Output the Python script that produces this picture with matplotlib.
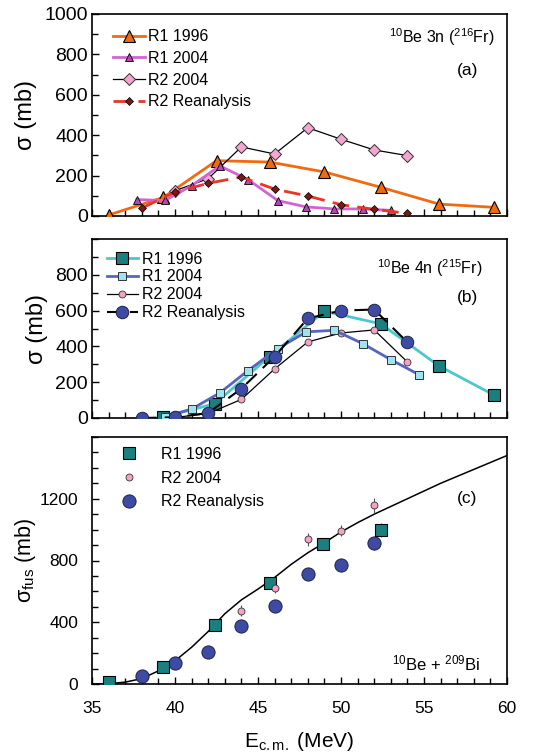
import numpy as np
import matplotlib
matplotlib.use('Agg')
import matplotlib.pyplot as plt
from matplotlib.ticker import MultipleLocator

plt.rcParams['font.family'] = ['Liberation Sans', 'DejaVu Sans']
plt.rcParams['mathtext.fontset'] = 'custom'
plt.rcParams['mathtext.rm'] = 'Liberation Sans'
plt.rcParams['mathtext.it'] = 'Liberation Sans:italic'
plt.rcParams['mathtext.bf'] = 'Liberation Sans:bold'

# panel (a): 10Be 3n (216Fr)
a_r1_1996_x = [36.0, 39.3, 42.5, 45.7, 49.0, 52.4, 55.9, 59.2]
a_r1_1996_y = [5, 92, 274, 267, 218, 142, 59, 43]
a_r1_2004_x = [37.7, 39.4, 41.0, 42.7, 44.4, 46.2, 47.9, 49.6, 51.3, 53.0]
a_r1_2004_y = [81, 77, 150, 248, 180, 76, 45, 35, 35, 28]
a_r2_2004_x = [40, 42, 44, 46, 48, 50, 52, 54]
a_r2_2004_y = [125, 185, 342, 307, 437, 380, 327, 299]
a_r2_2004_err = [30, 12, 30, 15, 20, 20, 25, 30]
a_r2_re_x = [38, 40, 42, 44, 46, 48, 50, 52, 54]
a_r2_re_y = [39, 118, 162, 193, 133, 99, 56, 33, 13]

# panel (b): 10Be 4n (215Fr)
b_r1_1996_x = [39.3, 42.4, 45.7, 49.0, 52.4, 55.9, 59.2]
b_r1_1996_y = [5, 80, 343, 597, 526, 291, 129]
b_r1_2004_x = [39.4, 41.0, 42.7, 44.4, 46.2, 47.9, 49.6, 51.3, 53.0, 54.7]
b_r1_2004_y = [8, 50, 140, 265, 388, 481, 490, 416, 326, 242]
b_r2_2004_x = [40, 42, 44, 46, 48, 50, 52, 54]
b_r2_2004_y = [3, 25, 104, 274, 425, 475, 492, 313]
b_r2_re_x = [38, 40, 42, 44, 46, 48, 50, 52, 54]
b_r2_re_y = [0, 4, 28, 164, 343, 556, 600, 606, 423]

# panel (c): fusion cross section
c_r1_1996_x = [36.0, 39.3, 42.4, 45.7, 48.9, 52.4]
c_r1_1996_y = [13, 112, 384, 654, 907, 997]
c_r1_1996_err = [8, 15, 20, 25, 35, 45]
c_r2_2004_x = [44, 46, 48, 50, 52]
c_r2_2004_y = [475, 622, 937, 993, 1157]
c_r2_2004_err = [35, 30, 40, 35, 50]
c_r2_re_x = [38, 40, 42, 44, 46, 48, 50, 52]
c_r2_re_y = [52, 138, 207, 378, 507, 714, 771, 911]
c_r2_re_err = [30, 35, 35, 30, 30, 30, 30, 40]
c_calc_x = [35, 36, 37, 38, 39, 40, 41, 42, 43, 44, 45, 46, 47, 48,
            49, 50, 51, 52, 53, 54, 55, 56, 57, 58, 59, 60]
c_calc_y = [0, 2, 12, 35, 85, 150, 238, 340, 455, 545, 615, 690, 775, 850,
            915, 985, 1045, 1100, 1150, 1200, 1250, 1300, 1345, 1390, 1435, 1480]

W, H = 548, 756
fig = plt.figure(figsize=(W / 100, H / 100), dpi=100)


def rect(left, right, top, bottom):
    return [left / W, 1 - bottom / H, (right - left) / W, (bottom - top) / H]


ax_a = fig.add_axes(rect(92, 507, 14, 216))
ax_b = fig.add_axes(rect(92, 507, 239, 418))
ax_c = fig.add_axes(rect(92, 507, 437, 684))

for ax in (ax_a, ax_b, ax_c):
    ax.set_xlim(35, 60)
    ax.xaxis.set_major_locator(MultipleLocator(5))
    ax.xaxis.set_minor_locator(MultipleLocator(1))
    ax.tick_params(which='both', direction='in', top=False, right=False,
                   width=1)
    ax.tick_params(which='major', length=5)
    ax.tick_params(which='minor', length=4)
    for s in ax.spines.values():
        s.set_linewidth(1.2)

# ---- panel (a)
ax = ax_a
h1, = ax.plot(a_r1_1996_x, a_r1_1996_y, '-^', color='#F26A10', lw=2, ms=9,
              mfc='#F26A10', mec='black', mew=0.8, label='R1 1996', zorder=3)
h2, = ax.plot(a_r1_2004_x, a_r1_2004_y, '-^', color='#D463D2', lw=2, ms=5.5,
              mfc='#B447B4', mec='black', mew=0.6, label='R1 2004', zorder=4)
ax.errorbar(a_r2_2004_x, a_r2_2004_y, yerr=a_r2_2004_err, fmt='none',
            ecolor='#444444', elinewidth=0.8, zorder=3)
h3, = ax.plot(a_r2_2004_x, a_r2_2004_y, '-D', color='black', lw=0.9, ms=6.5,
              mfc='#F5A6D0', mec='#333333', mew=0.7, label='R2 2004', zorder=3)
h4, = ax.plot(a_r2_re_x, a_r2_re_y, '--D', color='#E8352A', lw=2, ms=4.2,
              dashes=(6, 3), mfc='#7B1A12', mec='black', mew=0.5,
              label='R2 Reanalysis', zorder=5)
ax.set_ylim(0, 1000)
ax.yaxis.set_major_locator(MultipleLocator(200))
ax.yaxis.set_minor_locator(MultipleLocator(100))
ax.tick_params(axis='y', labelsize=14, pad=3)
ax.set_xticklabels([])
ax.set_ylabel('σ (mb)', fontsize=17, labelpad=5)
ax.legend(handles=[h1, h2, h3, h4], loc='upper left',
          bbox_to_anchor=(0.05, 0.925), frameon=False,
          fontsize=11.5, handlelength=2.0, handletextpad=0.2,
          labelspacing=0.42, borderpad=0, borderaxespad=0)
ax.text(0.97, 0.885, '$^{10}$Be 3n ($^{216}$Fr)', transform=ax.transAxes,
        ha='right', va='center', fontsize=11.5)
ax.text(0.93, 0.72, '(a)', transform=ax.transAxes, ha='right', va='center',
        fontsize=12.5)

# ---- panel (b)
ax = ax_b
ax.plot(b_r1_1996_x, b_r1_1996_y, '-s', color='#4CC6CF', lw=2, ms=8,
        mfc='#1C7F7F', mec='black', mew=0.8, label='R1 1996', zorder=3)
ax.plot(b_r1_2004_x, b_r1_2004_y, '-s', color='#5865C0', lw=2, ms=5.5,
        mfc='#A0E3F0', mec='#333333', mew=0.7, label='R1 2004', zorder=4)
ax.plot(b_r2_2004_x, b_r2_2004_y, '-o', color='black', lw=0.9, ms=5,
        mfc='#F5A3C4', mec='#333333', mew=0.6, label='R2 2004', zorder=3)
ax.plot(b_r2_re_x, b_r2_re_y, '--o', color='black', lw=1.5, ms=9,
        dashes=(7, 4), mfc='#3D4BA5', mec='#222244', mew=0.7,
        label='R2 Reanalysis', zorder=5)
ax.set_ylim(0, 1000)
ax.set_yticks([0, 200, 400, 600, 800])
ax.yaxis.set_minor_locator(MultipleLocator(100))
ax.tick_params(axis='y', labelsize=14, pad=3)
ax.set_xticklabels([])
ax.set_ylabel('σ (mb)', fontsize=17, labelpad=5)
ax.legend(loc='upper left', bbox_to_anchor=(0.035, 0.93), frameon=False,
          fontsize=11.5, handlelength=2.0, handletextpad=0.2,
          labelspacing=0.18, borderpad=0, borderaxespad=0)
ax.text(0.94, 0.835, '$^{10}$Be 4n ($^{215}$Fr)', transform=ax.transAxes,
        ha='right', va='center', fontsize=11.5)
ax.text(0.93, 0.675, '(b)', transform=ax.transAxes, ha='right', va='center',
        fontsize=12.5)

# ---- panel (c)
ax = ax_c
ax.plot(c_calc_x, c_calc_y, '-', color='black', lw=1.1, zorder=2)
ax.errorbar(c_r1_1996_x, c_r1_1996_y, yerr=c_r1_1996_err, fmt='none',
            ecolor='#555555', elinewidth=0.8, zorder=3)
ax.errorbar(c_r2_2004_x, c_r2_2004_y, yerr=c_r2_2004_err, fmt='none',
            ecolor='#555555', elinewidth=0.8, zorder=3)
ax.errorbar(c_r2_re_x, c_r2_re_y, yerr=c_r2_re_err, fmt='none',
            ecolor='#555555', elinewidth=0.8, zorder=3)
ax.plot(c_r1_1996_x, c_r1_1996_y, 's', ms=8.5, mfc='#1C7F7F', mec='black',
        mew=0.8, label='R1 1996', zorder=4)
ax.plot(c_r2_2004_x, c_r2_2004_y, 'o', ms=5, mfc='#F5A3C4', mec='#333333',
        mew=0.6, label='R2 2004', zorder=4)
ax.plot(c_r2_re_x, c_r2_re_y, 'o', ms=9.5, mfc='#3D4BA5', mec='#222244',
        mew=0.7, label='R2 Reanalysis', zorder=3)
ax.set_ylim(0, 1600)
ax.set_yticks([0, 400, 800, 1200])
ax.yaxis.set_minor_locator(MultipleLocator(100))
ax.tick_params(axis='y', labelsize=12.5, pad=10)
ax.tick_params(axis='x', labelsize=12.5, pad=12)
ax.set_ylabel('σ$_{\\rm fus}$ (mb)', fontsize=15.5, labelpad=1)
ax.set_xlabel('E$_{\\rm c.m.}$ (MeV)', fontsize=15, labelpad=10)
ax.legend(loc='upper left', bbox_to_anchor=(0.05, 0.96), frameon=False,
          fontsize=11.5, handlelength=2.0, handletextpad=1.0,
          labelspacing=0.55, borderpad=0, borderaxespad=0)
ax.text(0.928, 0.752, '(c)', transform=ax.transAxes, ha='right',
        va='center', fontsize=12.5)
ax.text(0.936, 0.085, '$^{10}$Be + $^{209}$Bi', transform=ax.transAxes,
        ha='right', va='center', fontsize=12)

fig.savefig('out.png', dpi=100)
